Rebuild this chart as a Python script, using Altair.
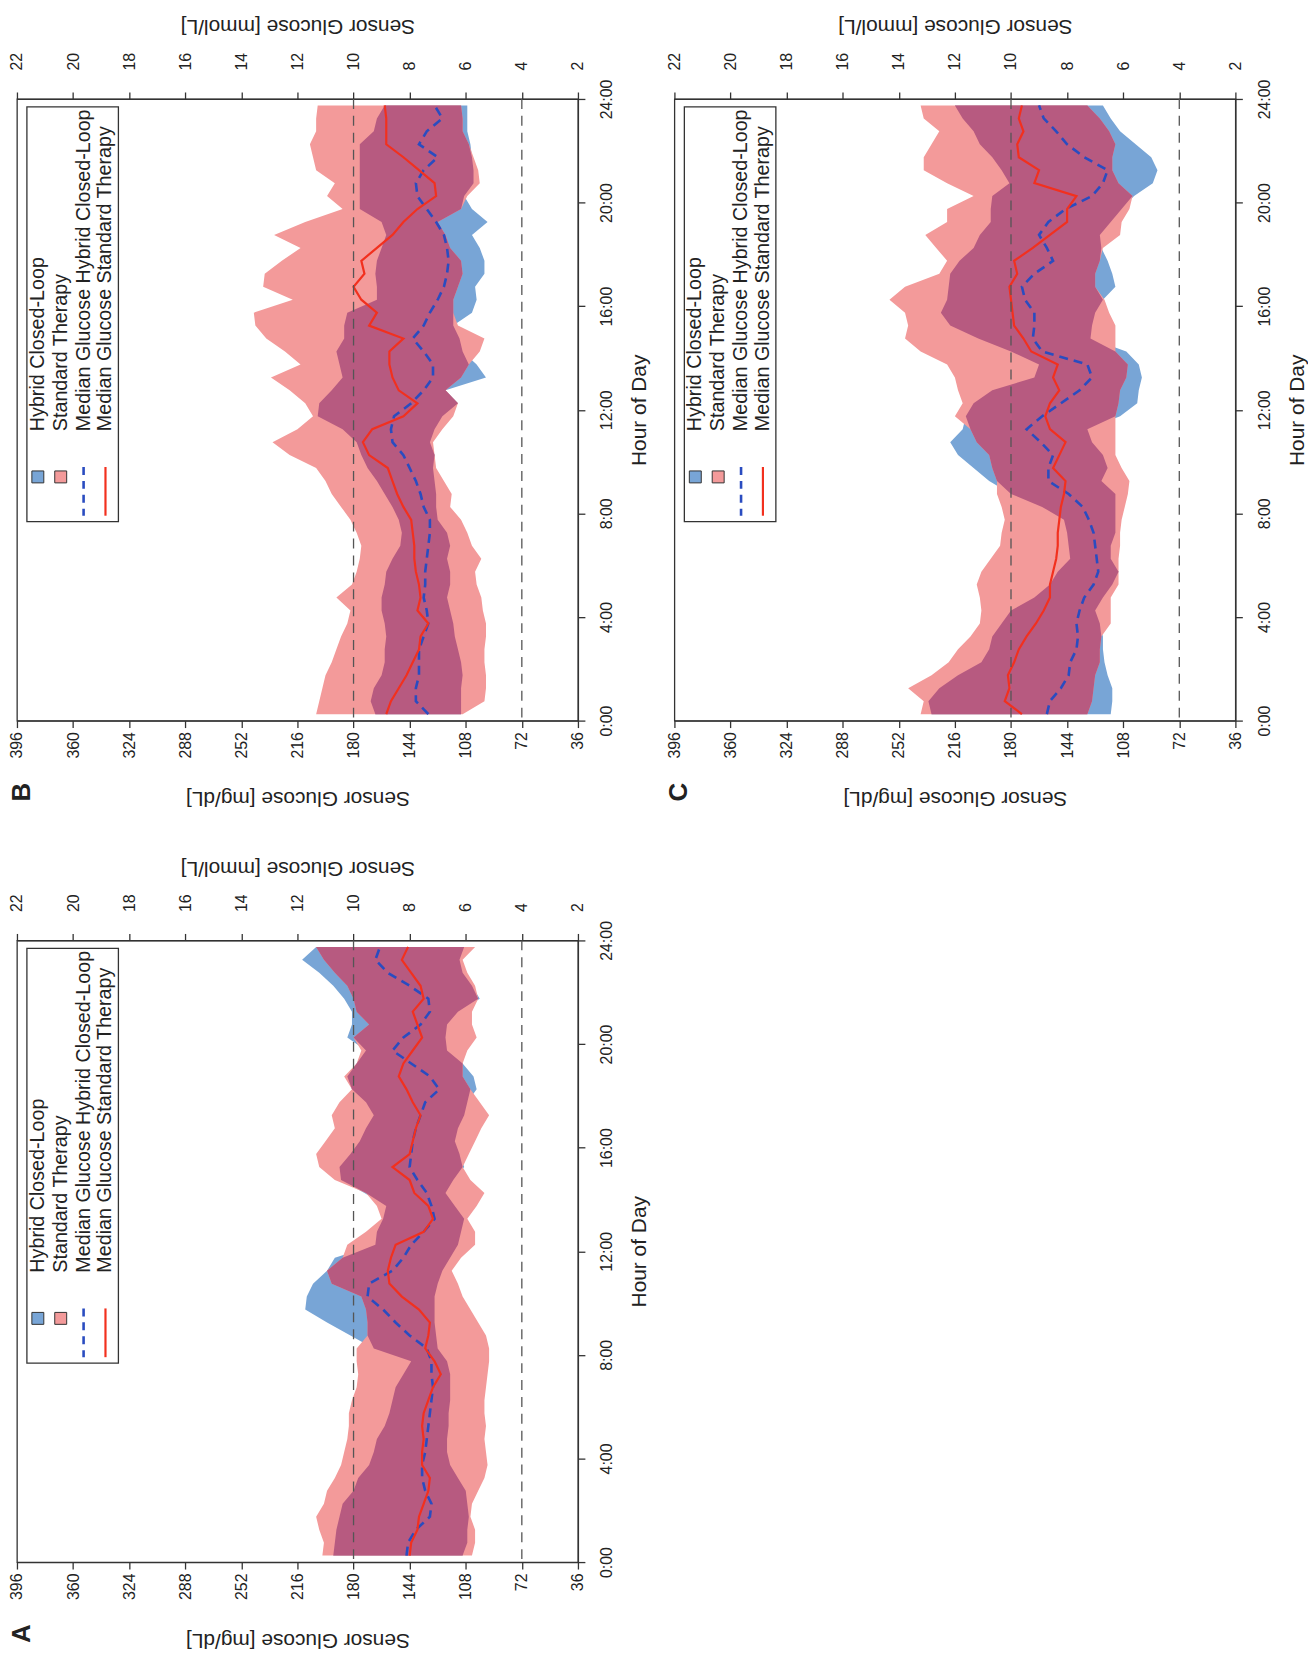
import altair as alt
import pandas as pd

# ---------------- data (hour of day, glucose in mg/dL) ----------------
HOURS = [0.25, 0.75, 1.25, 1.75, 2.25, 2.75, 3.25, 3.75, 4.25, 4.75, 5.25, 5.75,
         6.25, 6.75, 7.25, 7.75, 8.25, 8.75, 9.25, 9.75, 10.25, 10.75, 11.25, 11.75,
         12.25, 12.75, 13.25, 13.75, 14.25, 14.75, 15.25, 15.75, 16.25, 16.75, 17.25, 17.75,
         18.25, 18.75, 19.25, 19.75, 20.25, 20.75, 21.25, 21.75, 22.25, 22.75, 23.25, 23.75]

# Panel A
A_HCL_LO = [110, 107, 107, 106, 107, 108, 113, 118, 120, 120, 119, 119, 118, 118, 118, 120, 126, 127, 128, 128, 128, 126, 123, 118,
            113, 111, 109, 115, 121, 116, 109, 112, 115, 113, 109, 107, 101, 103, 110, 120, 121, 120, 113, 99, 104, 110, 112, 109]
A_HCL_HI = [193, 192, 191, 189, 187, 180, 177, 170, 167, 165, 160, 157, 155, 153, 148, 143, 167, 182, 197, 211, 210, 206, 197, 192,
            166, 165, 161, 159, 173, 188, 189, 182, 176, 172, 167, 172, 181, 184, 178, 172, 184, 181, 181, 186, 193, 202, 213, 204]
A_ST_LO = [104, 102, 102, 105, 104, 100, 96, 94, 95, 96, 95, 96, 96, 95, 94, 93, 93, 95, 100, 105, 110, 113, 117, 111,
           102, 102, 107, 101, 96, 105, 110, 106, 102, 98, 93, 99, 105, 110, 110, 107, 101, 104, 104, 100, 102, 107, 110, 102]
A_ST_HI = [200, 199, 202, 204, 199, 197, 192, 188, 186, 184, 183, 183, 181, 178, 177, 178, 178, 171, 171, 172, 175, 194, 197, 187,
           184, 172, 162, 165, 172, 192, 202, 204, 198, 192, 194, 189, 181, 186, 178, 175, 180, 170, 178, 180, 184, 192, 199, 204]
A_HCL_MED = [146, 145, 140, 131, 130, 134, 136, 136, 134, 133, 132, 131, 130, 129, 130, 130, 133, 144, 153, 161, 171, 170, 155, 148,
             143, 135, 128, 130, 133, 139, 144, 143, 142, 140, 137, 134, 125, 131, 143, 155, 148, 137, 131, 132, 144, 158, 166, 163]
A_ST_MED = [144, 143, 139, 138, 135, 132, 131, 136, 136, 135, 136, 135, 132, 129, 124, 128, 134, 132, 131, 138, 149, 157, 158, 156,
            153, 135, 129, 132, 141, 144, 155, 144, 142, 140, 137, 142, 146, 151, 148, 142, 136, 139, 142, 135, 137, 143, 149, 145]

# Panel B
B_HCL_LO = [111, 111, 111, 110, 111, 113, 115, 116, 118, 120, 118, 118, 120, 118, 120, 126, 127, 127, 128, 129, 128, 131, 128, 123,
            113, 121, 95, 101, 110, 112, 116, 104, 101, 102, 96, 96, 99, 104, 94, 104, 109, 103, 103, 104, 105, 107, 107, 107]
B_HCL_HI = [166, 169, 167, 162, 160, 160, 159, 160, 162, 162, 160, 159, 155, 150, 149, 151, 155, 160, 165, 171, 175, 178, 187, 203,
            202, 194, 187, 189, 191, 186, 186, 184, 165, 165, 166, 165, 162, 159, 162, 176, 176, 176, 176, 176, 176, 167, 165, 160]
B_ST_LO = [110, 96, 95, 95, 96, 96, 95, 95, 97, 98, 101, 102, 98, 104, 107, 111, 118, 117, 122, 127, 128, 129, 123, 116,
           113, 121, 111, 106, 99, 96, 113, 116, 116, 113, 110, 111, 118, 121, 126, 111, 107, 99, 100, 103, 106, 110, 110, 111]
B_ST_HI = [204, 202, 200, 198, 194, 191, 188, 184, 182, 191, 181, 178, 176, 175, 178, 182, 188, 194, 198, 204, 221, 232, 216, 206,
           211, 221, 233, 214, 224, 236, 243, 244, 219, 238, 237, 226, 214, 231, 211, 187, 197, 192, 204, 206, 208, 204, 204, 203]
B_HCL_MED = [132, 140, 140, 138, 138, 138, 135, 132, 133, 135, 134, 134, 133, 132, 131, 131, 135, 137, 140, 144, 148, 155, 156, 154,
             143, 135, 129, 129, 135, 142, 135, 131, 126, 122, 120, 119, 120, 122, 127, 133, 139, 140, 135, 126, 138, 133, 123, 128]
B_ST_MED = [159, 156, 151, 146, 142, 138, 137, 132, 139, 137, 138, 140, 141, 141, 142, 143, 148, 152, 155, 158, 170, 174, 168, 148,
            139, 151, 155, 157, 157, 148, 170, 165, 175, 180, 173, 175, 165, 155, 148, 139, 127, 128, 138, 148, 159, 159, 159, 160]

# Panel C
C_HCL_LO = [116, 115, 115, 118, 120, 121, 121, 123, 126, 121, 115, 111, 116, 116, 113, 113, 113, 113, 122, 118, 121, 128, 131, 110,
            99, 98, 96, 98, 106, 129, 128, 126, 121, 113, 115, 118, 122, 123, 116, 109, 101, 89, 86, 90, 100, 110, 116, 121]
C_HCL_HI = [231, 233, 226, 214, 199, 194, 192, 186, 180, 165, 155, 150, 142, 143, 144, 146, 160, 180, 194, 204, 214, 219, 211, 209,
            204, 192, 165, 162, 180, 201, 219, 225, 221, 220, 219, 213, 204, 200, 193, 193, 192, 181, 186, 192, 200, 204, 211, 216]
C_ST_LO = [131, 128, 127, 126, 123, 123, 122, 116, 116, 116, 111, 111, 111, 110, 110, 109, 107, 105, 104, 109, 113, 113, 113, 113,
           111, 110, 106, 105, 113, 113, 113, 117, 120, 126, 126, 123, 121, 110, 109, 104, 102, 111, 115, 115, 113, 117, 123, 131]
C_ST_HI = [238, 236, 246, 231, 220, 214, 206, 200, 199, 200, 202, 199, 193, 187, 186, 184, 186, 189, 189, 192, 194, 202, 206, 216,
           211, 214, 216, 221, 238, 248, 246, 248, 258, 248, 226, 221, 228, 235, 221, 221, 204, 221, 236, 236, 231, 226, 236, 238]
C_HCL_MED = [157, 155, 148, 143, 142, 138, 137, 138, 136, 133, 127, 124, 125, 126, 127, 130, 134, 143, 156, 156, 153, 161, 170, 160,
             148, 136, 128, 131, 160, 166, 165, 165, 171, 173, 165, 153, 157, 162, 156, 145, 128, 121, 118, 133, 144, 151, 159, 162]
C_ST_MED = [173, 184, 181, 182, 178, 175, 170, 164, 159, 155, 155, 153, 151, 150, 150, 149, 148, 146, 145, 153, 149, 145, 155, 158,
            155, 149, 153, 150, 167, 172, 178, 179, 180, 181, 176, 178, 166, 155, 144, 144, 138, 165, 162, 175, 176, 172, 175, 173]

MG_TICKS = [36, 72, 108, 144, 180, 216, 252, 288, 324, 360, 396]
MMOL_TICKS = [2, 4, 6, 8, 10, 12, 14, 16, 18, 20, 22]
HOUR_TICKS = [0, 4, 8, 12, 16, 20, 24]
REF_MMOL = [10, 4]
LEGEND_LABELS = ["Hybrid Closed-Loop", "Standard Therapy",
                 "Median Glucose Hybrid Closed-Loop", "Median Glucose Standard Therapy"]

# ---------------- styling ----------------
W, H = 564, 625
BLUE = "#78a5d6"
PINK = "#f39a9a"
OVERLAP = "#b75a80"
DBLUE = "#2a4cc0"
LRED = "#f2301e"
INK = "#222222"
FONT = "Liberation Sans"

x_scale = alt.Scale(domain=[36, 396], reverse=True, nice=False, zero=False)
y_scale = alt.Scale(domain=[0, 24], nice=False, zero=False)

x_axis = alt.Axis(orient="bottom", values=MG_TICKS, labelAngle=270, labelFontSize=16,
                  title="Sensor Glucose [mg/dL]", titleAngle=180, titleBaseline="bottom",
                  titleFontSize=21, titleFontWeight="normal", titlePadding=30,
                  tickSize=7, labelPadding=4)
y_axis = alt.Axis(orient="right", values=HOUR_TICKS, labelExpr="datum.value + ':00'",
                  labelAngle=270, labelFontSize=16, title="Hour of Day", titleAngle=270,
                  titleBaseline="top", titleFontSize=21, titleFontWeight="normal",
                  titlePadding=14, tickSize=7, labelPadding=14)
top_axis = alt.Axis(orient="top", values=MMOL_TICKS, labelAngle=270, labelFontSize=16,
                    title="Sensor Glucose [mmol/L]", titleAngle=180, titleBaseline="top",
                    titleFontSize=21, titleFontWeight="normal", titlePadding=16,
                    tickSize=7, labelPadding=22)


def one_row():
    return alt.Chart(pd.DataFrame({"k": [0]}))


def panel(letter, hcl_lo, hcl_hi, st_lo, st_hi, hcl_med, st_med):
    df = pd.DataFrame({"hour": HOURS, "hcl_lo": hcl_lo, "hcl_hi": hcl_hi,
                       "st_lo": st_lo, "st_hi": st_hi,
                       "hcl_med": hcl_med, "st_med": st_med})
    # overlap of the two bands (derived from the bands themselves)
    df["ov_lo"] = df[["hcl_lo", "st_lo"]].max(axis=1)
    df["ov_hi"] = df[["hcl_hi", "st_hi"]].min(axis=1)
    df["ov_hi"] = df[["ov_hi", "ov_lo"]].max(axis=1)
    base = alt.Chart(df)
    Y = alt.Y("hour:Q", scale=y_scale, axis=y_axis)
    blue_band = base.mark_area(orient="horizontal", color=BLUE).encode(
        y=Y, x=alt.X("hcl_hi:Q", scale=x_scale, axis=x_axis), x2="hcl_lo:Q")
    red_band = base.mark_area(orient="horizontal", color=PINK).encode(
        y=Y, x=alt.X("st_hi:Q", scale=x_scale, axis=x_axis), x2="st_lo:Q")
    ov_band = base.mark_area(orient="horizontal", color=OVERLAP).encode(
        y=Y, x=alt.X("ov_hi:Q", scale=x_scale, axis=x_axis), x2="ov_lo:Q")
    blue_line = base.mark_line(color=DBLUE, strokeWidth=2.6, strokeDash=[9, 6]).encode(
        y=Y, x=alt.X("hcl_med:Q", scale=x_scale, axis=x_axis), order="hour:Q")
    red_line = base.mark_line(color=LRED, strokeWidth=2.2).encode(
        y=Y, x=alt.X("st_med:Q", scale=x_scale, axis=x_axis), order="hour:Q")

    # legend drawn inside the plot (rotated like the figure)
    box = one_row().mark_rect(fill="white", stroke="#333333", strokeWidth=1.3).encode(
        x=alt.value(10), x2=alt.value(102), y=alt.value(8), y2=alt.value(425))
    sw_blue = one_row().mark_rect(fill=BLUE, stroke="#333333", strokeWidth=1).encode(
        x=alt.value(15), x2=alt.value(27), y=alt.value(374), y2=alt.value(386))
    sw_red = one_row().mark_rect(fill=PINK, stroke="#333333", strokeWidth=1).encode(
        x=alt.value(38), x2=alt.value(50), y=alt.value(374), y2=alt.value(386))
    lg_blue = one_row().mark_rule(color=DBLUE, strokeWidth=2.6, strokeDash=[8, 6]).encode(
        x=alt.value(67), y=alt.value(370), y2=alt.value(419))
    lg_red = one_row().mark_rule(color=LRED, strokeWidth=2.2).encode(
        x=alt.value(89), y=alt.value(370), y2=alt.value(419))
    texts = []
    for lbl, px in zip(LEGEND_LABELS, [21, 44, 67, 89]):
        texts.append(
            alt.Chart(pd.DataFrame({"t": [lbl]})).mark_text(
                angle=270, align="left", baseline="middle", fontSize=19.8,
                font=FONT, color=INK).encode(
                x=alt.value(px), y=alt.value(334), text="t:N"))
    letter_mark = alt.Chart(pd.DataFrame({"t": [letter]})).mark_text(
        angle=270, align="center", baseline="middle", fontSize=26, fontWeight="bold",
        font=FONT, color=INK).encode(x=alt.value(5), y=alt.value(H + 72), text="t:N")

    inner = alt.layer(blue_band, red_band, ov_band, blue_line, red_line,
                      box, sw_blue, sw_red, lg_blue, lg_red, *texts, letter_mark)

    ref = alt.Chart(pd.DataFrame({"mmol": REF_MMOL})).mark_rule(
        color="#555555", strokeWidth=1.3, strokeDash=[10, 7]).encode(
        x=alt.X("mmol:Q", scale=alt.Scale(domain=[2, 22], reverse=True, nice=False, zero=False),
                axis=top_axis))

    return alt.layer(inner, ref).resolve_scale(x="independent").properties(width=W, height=H)


pA = panel("A", A_HCL_LO, A_HCL_HI, A_ST_LO, A_ST_HI, A_HCL_MED, A_ST_MED)
pB = panel("B", B_HCL_LO, B_HCL_HI, B_ST_LO, B_ST_HI, B_HCL_MED, B_ST_MED)
pC = panel("C", C_HCL_LO, C_HCL_HI, C_ST_LO, C_ST_HI, C_HCL_MED, C_ST_MED)

chart = alt.vconcat(alt.hconcat(pB, pC, spacing=15), pA, spacing=46).properties(
    padding={"left": 0, "top": 2, "right": 0, "bottom": 2}
).configure_view(stroke="#333333", strokeWidth=1.3).configure_axis(
    grid=False, labelFont=FONT, titleFont=FONT, labelColor=INK, titleColor=INK,
    domainColor="#333333", tickColor="#333333", domainWidth=1.3, tickWidth=1.3
)

chart.save("out.html", embed_options={"renderer": "svg", "actions": False})
